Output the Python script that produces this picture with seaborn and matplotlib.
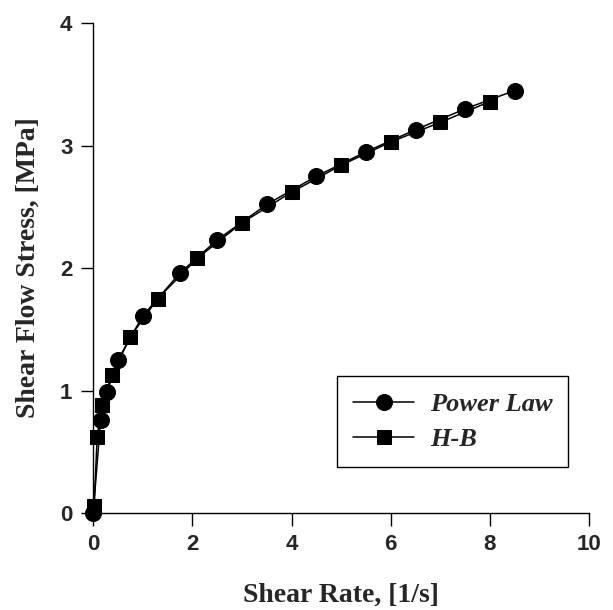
import pandas as pd
import seaborn as sns
import matplotlib.pyplot as plt

# Power Law model points
pl_rate = [0, 0.15, 0.28, 0.5, 1.0, 1.75, 2.5, 3.5, 4.5, 5.5, 6.5, 7.5, 8.5]
pl_stress = [0, 0.76, 0.99, 1.25, 1.61, 1.96, 2.23, 2.52, 2.75, 2.95, 3.13, 3.30, 3.45]

# Herschel-Bulkley model points
hb_rate = [0.02, 0.08, 0.17, 0.38, 0.75, 1.3, 2.1, 3.0, 4.0, 5.0, 6.0, 7.0, 8.0]
hb_stress = [0.06, 0.62, 0.88, 1.13, 1.44, 1.75, 2.08, 2.37, 2.62, 2.84, 3.03, 3.19, 3.36]

x_ticks = [0, 2, 4, 6, 8, 10]
y_ticks = [0, 1, 2, 3, 4]

pl = pd.DataFrame({'rate': pl_rate, 'stress': pl_stress})
hb = pd.DataFrame({'rate': hb_rate, 'stress': hb_stress})

sns.set_style('ticks')
plt.rcParams['font.family'] = ['Liberation Sans', 'DejaVu Sans']

fig = plt.figure(figsize=(6.13, 6.10), dpi=100)
ax = fig.add_axes([0.152, 0.159, 0.809, 0.803])

sns.lineplot(data=pl, x='rate', y='stress', ax=ax, color='black', lw=1.1,
             marker='o', markersize=11.5, markeredgecolor='black', label='Power Law')
sns.lineplot(data=hb, x='rate', y='stress', ax=ax, color='black', lw=1.1,
             marker='s', markersize=10, markeredgecolor='black', label='H-B')

ax.set_xlim(0, 10)
ax.set_ylim(0, 4)
ax.set_xticks(x_ticks)
ax.set_yticks(y_ticks)
for line in ax.get_lines():
    line.set_clip_on(False)

sns.despine(ax=ax)
for s in ['left', 'bottom']:
    ax.spines[s].set_linewidth(1.0)
    ax.spines[s].set_color('black')
ax.tick_params(direction='out', length=9, width=1.0, color='black', pad=6,
               labelsize=16)
for lbl in ax.get_xticklabels() + ax.get_yticklabels():
    lbl.set_fontweight('bold')

serif = ['Liberation Serif', 'DejaVu Serif']
ax.set_xlabel('Shear Rate, [1/s]', family=serif, fontweight='bold', fontsize=20, labelpad=20)
ax.set_ylabel('Shear Flow Stress, [MPa]', family=serif, fontweight='bold', fontsize=20, labelpad=14)

leg = ax.legend(loc='lower right', bbox_to_anchor=(0.958, 0.094), frameon=True,
                fancybox=False, edgecolor='black', framealpha=1, handlelength=2.3,
                borderpad=0.6, labelspacing=0.45, handletextpad=0.6, borderaxespad=0,
                prop={'family': serif, 'weight': 'bold', 'style': 'italic', 'size': 19})
leg.get_frame().set_linewidth(1.0)

plt.savefig('out.png', dpi=100)
plt.close()
